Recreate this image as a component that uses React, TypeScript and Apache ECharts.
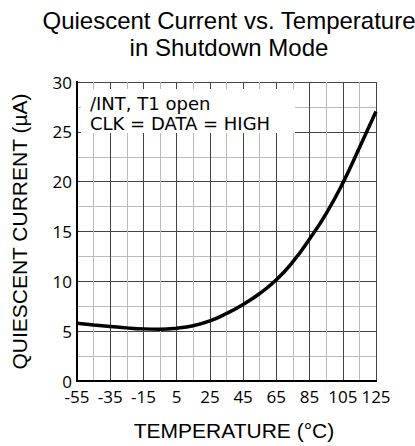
import React, { useEffect, useRef } from "react";
import * as echarts from "echarts";

const temperatures = [-55, -45, -35, -25, -15, -5, 5, 15, 25, 35, 45, 55, 65, 75, 85, 95, 105, 115, 125];
const currents = [5.8, 5.63, 5.48, 5.33, 5.23, 5.2, 5.3, 5.55, 6.03, 6.77, 7.68, 8.78, 10.15, 11.97, 14.25, 16.8, 19.85, 23.4, 27.05];
const xTickLabels = ["-55", "-35", "-15", "5", "25", "45", "65", "85", "105", "125"];
const yTickLabels = ["0", "5", "10", "15", "20", "25", "30"];
const T_MIN = -55;
const T_MAX = 125;
const Y_MIN = 0;
const Y_MAX = 30;
const titleText = "Quiescent Current vs. Temperature\nin Shutdown Mode";
const noteLines = ["/INT, T1 open", "CLK = DATA = HIGH"];

export default function App() {
  const ref = useRef<HTMLDivElement>(null);
  useEffect(() => {
    if (!ref.current) return;
    const chart = echarts.init(ref.current, null, { renderer: "svg" });
    const span = T_MAX - T_MIN;
    const data = temperatures.map((t, i) => [t - T_MIN, currents[i]]);
    const tickFont = "Open Sans";
    chart.setOption({
      animation: false,
      backgroundColor: "#fff",
      title: {
        text: titleText,
        left: 224,
        top: 2,
        textAlign: "center",
        textStyle: {
          fontFamily: "Liberation Sans",
          fontSize: 24,
          lineHeight: 27,
          fontWeight: "normal",
          color: "#000",
        },
      },
      grid: { left: 77, right: 39, top: 82, bottom: 65, containLabel: false },
      xAxis: [
        {
          type: "value",
          min: 0,
          max: span,
          interval: 10,
          name: "TEMPERATURE (°C)",
          nameLocation: "middle",
          nameGap: 39,
          nameTextStyle: {
            fontFamily: "Liberation Sans",
            fontSize: 21,
            color: "#000",
            padding: [0, 0, 0, 15],
          },
          axisLine: { show: true, lineStyle: { color: "#000", width: 2 } },
          axisTick: { show: false },
          axisLabel: {
            margin: 7,
            lineHeight: 16,
            fontFamily: tickFont,
            fontSize: 17,
            color: "#000",
            formatter: (v: number) => {
              const t = Math.round(v + T_MIN);
              const s = String(t);
              return xTickLabels.includes(s) ? s : "";
            },
          },
          splitLine: { show: true, lineStyle: { color: ["#444", "#bbb"], width: 1 } },
        },
        {
          type: "value",
          position: "top",
          min: 0,
          max: span,
          axisLine: { show: true, lineStyle: { color: "#000", width: 2 } },
          axisTick: { show: false },
          axisLabel: { show: false },
          splitLine: { show: false },
        },
      ],
      yAxis: [
        {
          type: "value",
          min: Y_MIN,
          max: Y_MAX,
          interval: 2.5,
          name: "QUIESCENT CURRENT (µA)",
          nameLocation: "middle",
          nameGap: 47,
          nameTextStyle: {
            fontFamily: "Liberation Sans",
            fontSize: 21,
            color: "#000",
          },
          axisLine: { show: true, lineStyle: { color: "#000", width: 2 } },
          axisTick: { show: false },
          axisLabel: {
            margin: 5,
            lineHeight: 12,
            fontFamily: tickFont,
            fontSize: 17,
            color: "#000",
            formatter: (v: number) => {
              const s = String(v);
              return yTickLabels.includes(s) ? s : "";
            },
          },
          splitLine: { show: true, lineStyle: { color: ["#444", "#bbb"], width: 1 } },
        },
        {
          type: "value",
          position: "right",
          min: Y_MIN,
          max: Y_MAX,
          axisLine: { show: true, lineStyle: { color: "#000", width: 2 } },
          axisTick: { show: false },
          axisLabel: { show: false },
          splitLine: { show: false },
        },
      ],
      graphic: [
        {
          type: "rect",
          z: 10,
          shape: { x: 81, y: 89, width: 214, height: 44 },
          style: { fill: "#fff" },
        },
        {
          type: "text",
          z: 11,
          x: 90,
          y: 103,
          style: {
            text: noteLines[0],
            font: "18px 'DejaVu Sans'",
            fill: "#000",
            verticalAlign: "middle",
          },
        },
        {
          type: "text",
          z: 11,
          x: 90,
          y: 123,
          style: {
            text: noteLines[1],
            font: "18px 'DejaVu Sans'",
            fill: "#000",
            verticalAlign: "middle",
          },
        },
      ],
      series: [
        {
          type: "line",
          xAxisIndex: 0,
          yAxisIndex: 0,
          data,
          smooth: true,
          showSymbol: false,
          symbol: "none",
          lineStyle: { color: "#000", width: 3.5 },
          z: 5,
        },
      ],
    });
    return () => chart.dispose();
  }, []);
  return (
    <div
      ref={ref}
      style={{ position: "fixed", left: 0, top: 0, width: 415, height: 446 }}
    />
  );
}
